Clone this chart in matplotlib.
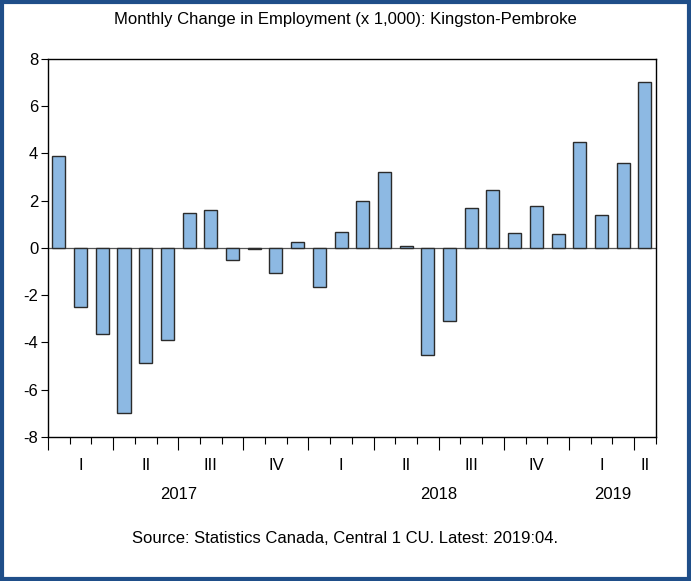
import numpy as np
import matplotlib
matplotlib.use("Agg")
import matplotlib.pyplot as plt
from matplotlib.patches import Rectangle

# Monthly change in employment (x 1,000), Jan 2017 - Apr 2019
values = [3.90, -2.49, -3.65, -6.97, -4.87, -3.88, 1.46, 1.61, -0.51, -0.06, -1.05, 0.24,
          -1.67, 0.66, 1.98, 3.21, 0.07, -4.54, -3.08, 1.67, 2.45, 0.64, 1.77, 0.58,
          4.48, 1.39, 3.59, 7.03]
quarter_labels = ["I", "II", "III", "IV", "I", "II", "III", "IV", "I", "II"]
quarter_centers = [1, 4, 7, 10, 13, 16, 19, 22, 25, 27]
years = ["2017", "2018", "2019"]
year_centers = [5.5, 17.5, 25.5]

plt.rcParams["font.family"] = ["Liberation Sans", "DejaVu Sans"]
plt.rcParams["axes.unicode_minus"] = False

fig = plt.figure(figsize=(6.91, 5.81), dpi=100)
ax = fig.add_axes([0.0695, 0.248, 0.8795, 0.6505])

x = np.arange(len(values))
ax.bar(x, values, width=0.6, color="#8DB9E3", edgecolor="#2b2b2b", linewidth=1.0, zorder=3)
ax.axhline(0, color="#555555", linewidth=0.9, zorder=2)

ax.set_xlim(-0.5, len(values) - 0.5)
ax.set_ylim(-8, 8)
ax.set_yticks(np.arange(-8, 9, 2))
ax.tick_params(axis="y", direction="out", length=5, width=0.8, labelsize=12, pad=2)

# month ticks (minor) and quarter ticks (major) below the axis
ax.set_xticks(np.arange(-0.5, len(values), 3))
ax.set_xticks(np.arange(-0.5, len(values), 1), minor=True)
ax.set_xticklabels([])
ax.tick_params(axis="x", which="major", direction="out", length=9, width=0.8)
ax.tick_params(axis="x", which="minor", direction="out", length=5, width=0.8)

for pos, lab in zip(quarter_centers, quarter_labels):
    ax.text(pos, -0.075, lab, transform=ax.get_xaxis_transform(), ha="center", va="center", fontsize=12)
for pos, lab in zip(year_centers, years):
    ax.text(pos, -0.152, lab, transform=ax.get_xaxis_transform(), ha="center", va="center", fontsize=12)

for sp in ax.spines.values():
    sp.set_linewidth(1.0)
    sp.set_color("black")

fig.text(0.5, 0.966, "Monthly Change in Employment (x 1,000): Kingston-Pembroke",
         ha="center", va="center", fontsize=12)
fig.text(0.5, 0.074, "Source: Statistics Canada, Central 1 CU. Latest: 2019:04.",
         ha="center", va="center", fontsize=12)

fig.patches.append(Rectangle((0.003, 0.004), 0.994, 0.992, transform=fig.transFigure,
                             fill=False, edgecolor="#1F4E89", linewidth=3))

fig.savefig("out.png", dpi=100)
